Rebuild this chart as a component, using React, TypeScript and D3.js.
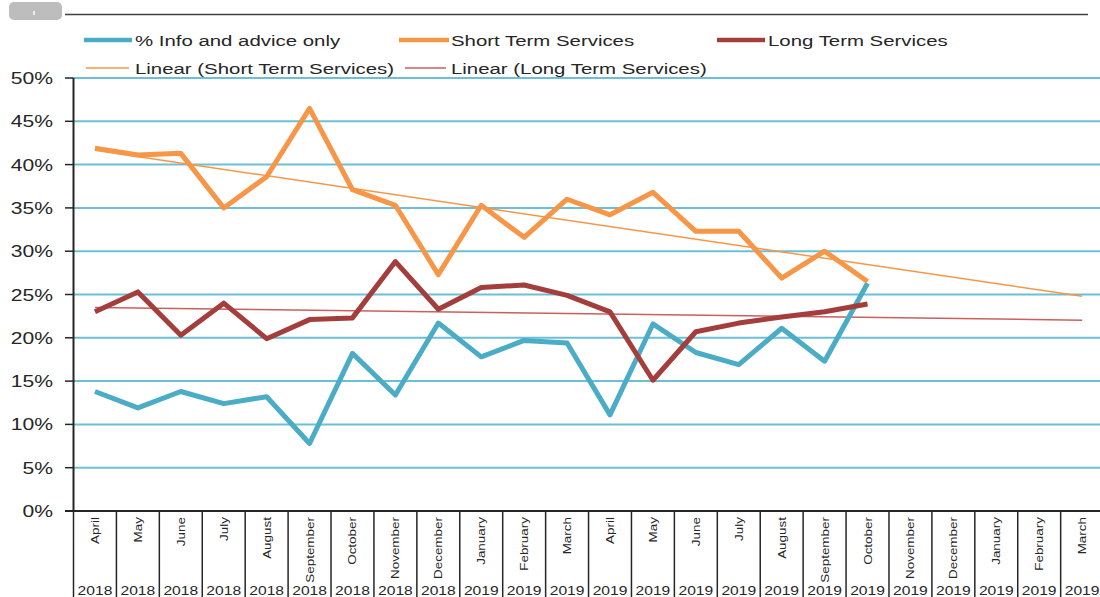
import * as d3 from "d3";

// months on the inner axis level, years on the outer level (as labelled in the source)
const months = [
  "April", "May", "June", "July", "August", "September", "October", "November", "December",
  "January", "February", "March",
  "April", "May", "June", "July", "August", "September", "October", "November", "December",
  "January", "February", "March",
];
const years = [
  "2018", "2018", "2018", "2018", "2018", "2018", "2018", "2018", "2018",
  "2019", "2019", "2019",
  "2019", "2019", "2019", "2019", "2019", "2019", "2019", "2019", "2019",
  "2019", "2019", "2019",
];

// % values, April 2018 .. October 2019
const infoAdvice = [13.8, 11.9, 13.8, 12.4, 13.2, 7.8, 18.2, 13.4, 21.7, 17.8, 19.7, 19.4, 11.1, 21.6, 18.3, 16.9, 21.1, 17.3, 26.3];
const shortTerm = [41.9, 41.1, 41.3, 35.0, 38.6, 46.5, 37.1, 35.3, 27.3, 35.3, 31.6, 36.0, 34.2, 36.8, 32.3, 32.3, 26.9, 30.0, 26.5];
const longTerm = [23.0, 25.3, 20.3, 24.0, 19.9, 22.1, 22.3, 28.8, 23.3, 25.8, 26.1, 24.9, 23.0, 15.1, 20.7, 21.7, 22.4, 23.0, 23.9];

const yTicks = [0, 5, 10, 15, 20, 25, 30, 35, 40, 45, 50];

const BLUE = "#4bacc6";
const ORANGE = "#f79646";
const RED = "#a33e3c";
const TREND_RED = "#c9605e";
const GRID = "#6cc0d5";
const FONT = "'Liberation Sans', Arial, sans-serif";

// least squares line over x = 0..n-1, extended across all categories
function linearTrend(values: number[], total: number) {
  const xs = values.map((_, i) => i);
  const mx = d3.mean(xs)!;
  const my = d3.mean(values)!;
  const sxy = d3.sum(xs, (x, i) => (x - mx) * (values[i] - my));
  const sxx = d3.sum(xs, (x) => (x - mx) * (x - mx));
  const slope = sxy / sxx;
  return [0, total - 1].map((i) => ({ i, v: my + slope * (i - mx) }));
}

function Txt({ x, y, sx = 1.3, size, anchor = "start", children, rotate = 0 }: any) {
  return (
    <text
      transform={`translate(${x},${y}) rotate(${rotate}) scale(${sx},1)`}
      fontFamily={FONT}
      fontSize={size}
      textAnchor={anchor}
      fill="#262626"
    >
      {children}
    </text>
  );
}

export default function App() {
  const width = 1100;
  const height = 597;
  const left = 73.5;
  const step = 42.92;

  const x = d3.scaleBand<number>()
    .domain(months.map((_, i) => i))
    .range([left, left + step * months.length]);
  const cx = (i: number) => x(i)! + x.bandwidth() / 2;
  const y = d3.scaleLinear().domain([0, 50]).range([511, 78]);

  const line = d3.line<number>()
    .x((_, i) => cx(i))
    .y((d) => y(d));
  const trendLine = d3.line<{ i: number; v: number }>()
    .x((d) => cx(d.i))
    .y((d) => y(d.v));

  const shortTrend = linearTrend(shortTerm, months.length);
  const longTrend = linearTrend(longTerm, months.length);

  return (
    <svg width={width} height={height} style={{ position: "absolute", left: 0, top: 0, background: "#fff" }}>
      {/* clipped title remnant */}
      <rect x={9} y={2} width={53} height={18} rx={5} fill="#bdbdbd" />
      <line x1={34} x2={34} y1={11} y2={15} stroke="#fff" strokeWidth={1.5} />
      <line x1={65} x2={1088} y1={14.5} y2={14.5} stroke="#404040" strokeWidth={1.5} />

      {/* legend */}
      <g>
        <line x1={84} x2={132} y1={40} y2={40} stroke={BLUE} strokeWidth={4.5} />
        <Txt x={135} y={45.5} size={15} sx={1.36}>% Info and advice only</Txt>
        <line x1={399} x2={449} y1={40} y2={40} stroke={ORANGE} strokeWidth={4.5} />
        <Txt x={451} y={45.5} size={15} sx={1.36}>Short Term Services</Txt>
        <line x1={717} x2={765} y1={40} y2={40} stroke={RED} strokeWidth={4.5} />
        <Txt x={768} y={45.5} size={15} sx={1.36}>Long Term Services</Txt>
        <line x1={86} x2={129} y1={68} y2={68} stroke={ORANGE} strokeWidth={1.5} />
        <Txt x={135} y={73.5} size={15} sx={1.36}>Linear (Short Term Services)</Txt>
        <line x1={405} x2={446} y1={68} y2={68} stroke={TREND_RED} strokeWidth={1.5} />
        <Txt x={451} y={73.5} size={15} sx={1.36}>Linear (Long Term Services)</Txt>
      </g>

      {/* gridlines */}
      {yTicks.filter((t) => t > 0).map((t) => (
        <line key={t} x1={left} x2={width} y1={y(t)} y2={y(t)} stroke={GRID} strokeWidth={2} />
      ))}

      {/* y axis */}
      <line x1={left} x2={left} y1={y(50)} y2={y(0)} stroke="#262626" strokeWidth={2} />
      {yTicks.map((t) => (
        <g key={t}>
          <line x1={65} x2={left} y1={y(t)} y2={y(t)} stroke="#262626" strokeWidth={1.5} />
          <Txt x={53} y={y(t) + 6} size={16} sx={1.32} anchor="end">{`${t}%`}</Txt>
        </g>
      ))}

      {/* x axis with two category levels */}
      <line x1={65} x2={width} y1={y(0)} y2={y(0)} stroke="#262626" strokeWidth={2} />
      {months.map((m, i) => (
        <line key={"s" + i} x1={x(i)!} x2={x(i)!} y1={y(0)} y2={height} stroke="#262626" strokeWidth={1.5} />
      ))}
      {months.map((m, i) => (
        <Txt key={"m" + i} x={cx(i) + 4} y={517} size={11.5} sx={1.17} rotate={-90} anchor="end">{m}</Txt>
      ))}
      {years.map((yr, i) => (
        <Txt key={"y" + i} x={cx(i)} y={595} size={12.5} sx={1.25} anchor="middle">{yr}</Txt>
      ))}

      {/* trend lines */}
      <path d={trendLine(shortTrend)!} fill="none" stroke={ORANGE} strokeWidth={1.5} />
      <path d={trendLine(longTrend)!} fill="none" stroke={TREND_RED} strokeWidth={1.5} />

      {/* series */}
      <path d={line(infoAdvice)!} fill="none" stroke={BLUE} strokeWidth={5} strokeLinejoin="round" />
      <path d={line(shortTerm)!} fill="none" stroke={ORANGE} strokeWidth={5} strokeLinejoin="round" />
      <path d={line(longTerm)!} fill="none" stroke={RED} strokeWidth={5} strokeLinejoin="round" />
    </svg>
  );
}
